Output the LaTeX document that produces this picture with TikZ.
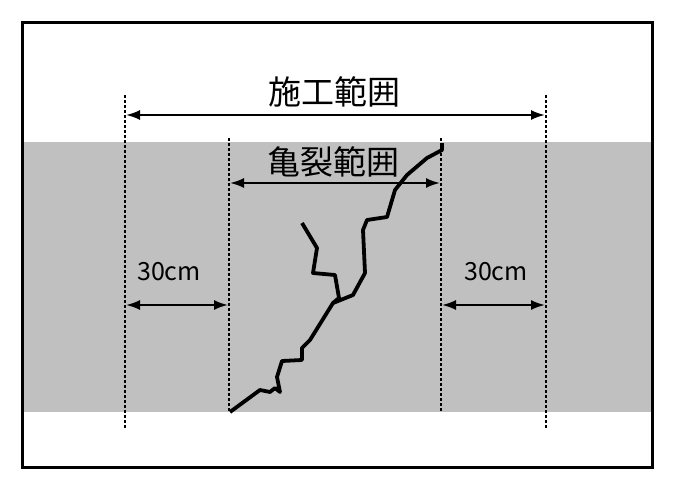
\documentclass[tikz,border=0pt]{standalone}
\usepackage{fontspec}
\setmainfont{Noto Sans CJK JP}
\usetikzlibrary{arrows.meta}
\definecolor{band}{RGB}{192,192,192}
\begin{document}
\begin{tikzpicture}[x=1pt,y=-1pt]
\tikzstyle{guide}=[dash pattern=on 3pt off 2pt, line width=1.2pt, draw=black]
\tikzstyle{dim}=[{Latex[length=14pt,width=10pt]}-{Latex[length=14pt,width=10pt]}, line width=2pt]
\tikzstyle{crack}=[line width=3.8pt, line join=round]
\tikzstyle{lbl}=[inner sep=0pt, font=\fontsize{33}{33}\selectfont]
\tikzstyle{margin}=[inner sep=0pt, font=\fontsize{25}{25}\selectfont]
\useasboundingbox (0,0) rectangle (673,490);
\fill[band] (22,142) rectangle (652,412);
\draw[line width=3pt] (22,22) rectangle (652,467);
% guides
\coordinate (o1t) at (125,95); \coordinate (o1b) at (125,428);
\coordinate (i1t) at (229,138); \coordinate (i1b) at (229,412);
\coordinate (i2t) at (441,138); \coordinate (i2b) at (441,412);
\coordinate (o2t) at (546,95); \coordinate (o2b) at (546,428);
\draw[guide] (o1t) -- (o1b);
\draw[guide] (i1t) -- (i1b);
\draw[guide] (i2t) -- (i2b);
\draw[guide] (o2t) -- (o2b);
% dimensions
\coordinate (wl) at (126,115); \coordinate (wr) at (545,115);
\coordinate (cl) at (230,183); \coordinate (cr) at (440,183);
\coordinate (ll) at (126,305); \coordinate (lr) at (228,305);
\coordinate (rl) at (442,305); \coordinate (rr) at (545,305);
\draw[dim] (wl) -- (wr);
\draw[dim] (cl) -- (cr);
\draw[dim] (ll) -- (lr);
\draw[dim] (rl) -- (rr);
\node[lbl] (work) at (334,92) {施工範囲};
\node[lbl] (crk) at (333,162) {亀裂範囲};
\node[margin] (left) at (169,272) {30cm};
\node[margin] (right) at (496,272) {30cm};
% crack
\draw[crack] (230,412) -- (260,390) -- (270,392) -- (275,388) -- (280,392)
  -- (277,377) -- (282,361) -- (302,360) -- (302,348) -- (310,340)
  -- (333,303) -- (353,295) -- (365,273) -- (363,230) -- (367,220)
  -- (387,217) -- (395,190) -- (407,175) -- (427,158) -- (442,150) -- (442,143);
\draw[crack] (302,223) -- (317,248) -- (313,273) -- (335,275) -- (339,298) -- (333,303);
\end{tikzpicture}
\end{document}
